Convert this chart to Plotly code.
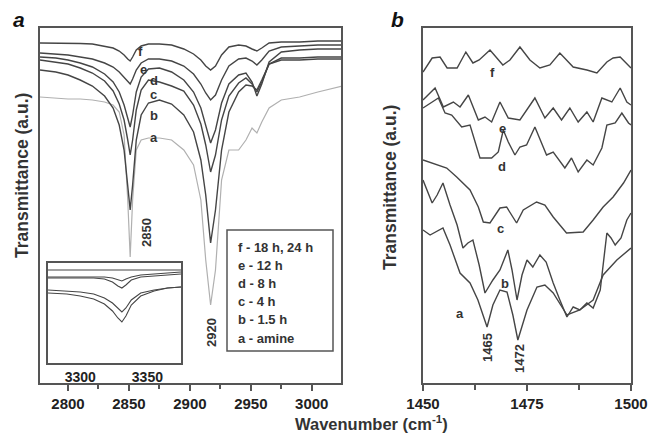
import plotly.graph_objects as go

# ---------------- Panel a data (Transmittance, a.u.) ----------------
wn_a = [2777, 2790, 2800, 2810, 2820, 2830, 2837, 2842, 2846, 2849, 2851, 2853, 2856, 2860,
        2866, 2875, 2885, 2895, 2903, 2909, 2913, 2917, 2921, 2926, 2932, 2940, 2946, 2951,
        2955, 2959, 2965, 2975, 2990, 3005, 3025]
a_f = [340, 340, 340, 339.5, 339, 337, 335, 332, 328, 324, 322, 326, 333, 337, 339, 339, 338, 334,
       329, 323, 317, 313, 317, 328, 336, 338, 337, 334, 332, 335, 340, 341, 341, 342, 342]
a_e = [330, 329, 328, 326, 324, 320, 316, 311, 306, 302, 299, 304, 313, 320, 324, 324, 322, 317,
       309, 299, 290, 283, 288, 303, 317, 324, 325, 322, 318, 323, 332, 336, 337, 338, 338]
a_d = [326, 325, 323, 320, 316, 309, 301, 291, 278, 265, 256, 268, 291, 306, 314, 315, 311, 303,
       291, 275, 258, 240, 253, 280, 299, 308, 310, 301, 287, 299, 321, 331, 333, 334, 334]
a_c = [323, 321, 319, 315, 310, 302, 292, 279, 263, 243, 228, 243, 273, 293, 303, 301, 297, 292,
       278, 259, 238, 211, 228, 263, 287, 300, 305, 299, 291, 301, 319, 325, 325, 326, 326]
a_b = [313, 311, 308, 303, 297, 287, 275, 258, 233, 198, 173, 198, 243, 268, 280, 283, 279, 268,
       251, 223, 188, 140, 173, 233, 271, 291, 298, 297, 293, 303, 319, 323, 323, 324, 324]
a_a = [286, 285, 284, 284, 283, 281, 278, 271, 248, 183, 126, 183, 233, 243, 245, 245, 243, 233,
       218, 183, 123, 78, 113, 203, 233, 233, 243, 255, 250, 261, 275, 283, 286, 291, 297]

# inset (N-H region)
wn_in = [3276, 3290, 3300, 3310, 3318, 3324, 3328, 3331, 3334, 3338, 3345, 3355, 3365, 3375]
in_f = [93, 93, 93, 93, 93, 93, 93, 93, 93, 93, 93, 93, 93, 93]
in_e = [86, 86, 86, 86, 86, 85, 83, 82, 84, 86, 88, 89, 90, 91]
in_d = [85, 85, 85, 85, 84, 81, 77, 75, 78, 83, 86, 87, 88, 89]
in_c = [73, 72, 71, 69, 65, 60, 55, 51, 55, 63, 70, 73, 75, 76]
in_b = [70, 69, 67, 64, 59, 52, 45, 41, 47, 58, 67, 72, 75, 76]

# ---------------- Panel b data ----------------
wn_bf = [1450, 1452.2, 1454.1, 1455.8, 1458.2, 1460.3, 1462, 1463.5, 1466.1, 1469.2, 1470.9, 1473.3,
         1475.7, 1478.1, 1480.5, 1482.9, 1486.1, 1489.4, 1491.8, 1494.2, 1495.7, 1497.4, 1500]
b_f = [311, 325, 326, 315, 315, 331, 320, 323, 333, 318, 323, 336, 323, 315, 318, 330, 316, 313,
       310, 321, 325, 326, 315]
wn_be = [1450, 1452.9, 1454.9, 1457.3, 1458.9, 1460.9, 1463.3, 1464.9, 1466.5, 1468.5, 1470.5, 1473.3,
         1476.9, 1479.3, 1481.3, 1483.3, 1485.3, 1487.3, 1489.4, 1490.9, 1493.0, 1495.4, 1497.4, 1499.0, 1500]
b_e = [283, 295, 276, 281, 276, 288, 263, 266, 261, 281, 265, 263, 285, 265, 275, 263, 275, 261,
       271, 261, 285, 281, 295, 281, 278]
wn_bd = [1450, 1453.7, 1455.3, 1456.9, 1459.3, 1461.3, 1463.7, 1466.5, 1468.1, 1469.3, 1470.5, 1472.1,
         1473.3, 1474.9, 1476.9, 1479.7, 1481.3, 1484.1, 1485.7, 1487.3, 1489.4, 1490.9, 1493.0, 1494.2,
         1496.2, 1497.8, 1499.4, 1500]
b_d = [275, 285, 270, 268, 256, 258, 225, 225, 231, 253, 241, 228, 236, 238, 256, 228, 231, 215,
       225, 211, 223, 218, 235, 258, 260, 270, 260, 258]
wn_bc = [1450, 1453.3, 1455.7, 1458.1, 1461.3, 1463.3, 1464.5, 1466.1, 1468.5, 1470.1, 1472.5, 1474.1,
         1477.3, 1479.3, 1481.3, 1484.5, 1488.5, 1490.9, 1493.3, 1495.7, 1498.2, 1500]
b_c = [223, 218, 215, 206, 193, 176, 161, 160, 175, 176, 160, 173, 181, 178, 166, 150, 151, 163,
       176, 186, 200, 213]
wn_bb = [1450, 1452.2, 1453.4, 1454.8, 1456.5, 1458.2, 1459.6, 1460.8, 1462.0, 1463.5, 1464.9, 1466.8,
         1468.5, 1470.4, 1471.4, 1472.6, 1473.8, 1475.0, 1476.4, 1478.1, 1479.6, 1481.3, 1482.9, 1484.6,
         1486.1, 1487.7, 1489.4, 1490.9, 1492.6, 1494.2, 1495.2, 1496.2, 1497.6, 1499.0, 1500]
b_b = [203, 180, 188, 200, 178, 158, 135, 140, 143, 118, 90, 103, 113, 133, 113, 83, 108, 123, 116,
       128, 121, 100, 83, 66, 76, 73, 80, 75, 93, 150, 145, 138, 145, 163, 170]
wn_ba = [1450, 1451.7, 1454.8, 1456.5, 1458.9, 1461.3, 1463.2, 1465.4, 1466.8, 1468.5, 1470.2, 1471.6,
         1472.8, 1475.0, 1477.4, 1479.3, 1481.3, 1484.6, 1487.7, 1490.9, 1493.3, 1496.6, 1500]
b_a = [153, 148, 155, 138, 110, 100, 83, 56, 78, 93, 91, 68, 43, 73, 96, 98, 90, 68, 73, 83, 108,
       123, 135]

legend_lines = ["f - 18 h, 24 h", "e - 12 h", "d - 8 h", "c - 4 h", "b - 1.5 h", "a - amine"]

W, H = 649, 436
def X(p): return p / W
def Y(p): return 1 - p / H

DARK = "#454545"
LIGHT = "#b0b0b0"
FONT = "Liberation Sans, Arial, sans-serif"

fig = go.Figure()
def line(x, y, xa, ya, color=DARK, width=1.4, dash="solid"):
    fig.add_trace(go.Scatter(x=x, y=y, mode="lines", xaxis=xa, yaxis=ya,
                             line=dict(color=color, width=width, dash=dash), showlegend=False,
                             hoverinfo="skip"))

line(wn_a, a_a, "x", "y", LIGHT, 1.2)
for s in (a_b, a_c, a_d, a_e, a_f):
    line(wn_a, s, "x", "y")
for s in (in_b, in_c, in_d, in_e, in_f):
    line(wn_in, s, "x3", "y3", DARK, 1.1)
for xs, s in ((wn_ba, b_a), (wn_bb, b_b), (wn_bc, b_c), (wn_bd, b_d), (wn_be, b_e), (wn_bf, b_f)):
    line(xs, s, "x2", "y2")

axline = dict(showline=True, mirror=True, linecolor="#555", linewidth=2, showgrid=False,
              zeroline=False, automargin=False)
tickfont = dict(family=FONT, size=15, color="#222", weight="bold")
fig.update_layout(
    width=W, height=H, margin=dict(l=0, r=0, t=0, b=0, pad=0, autoexpand=False),
    paper_bgcolor="white", plot_bgcolor="white", showlegend=False,
    xaxis=dict(domain=[X(40), X(341)], range=[2777, 3024], tickvals=[2800, 2850, 2900, 2950, 3000],
               ticktext=["<b>2800</b>", "<b>2850</b>", "<b>2900</b>", "<b>2950</b>", "<b>3000</b>"],
               ticks="outside", ticklen=6, tickwidth=1.5, tickcolor="#555", tickfont=tickfont,
               minor=dict(tickvals=[2825, 2875, 2925, 2975], ticks="outside", ticklen=4,
                          tickcolor="#555"),
               anchor="y", **axline),
    yaxis=dict(domain=[Y(383), Y(28)], range=[0, 355], showticklabels=False, ticks="",
               anchor="x", **axline),
    xaxis2=dict(domain=[X(423), X(631)], range=[1450, 1500], tickvals=[1450, 1475, 1500],
                ticktext=["<b>1450</b>", "<b>1475</b>", "<b>1500</b>"],
                ticks="outside", ticklen=6, tickwidth=1.5, tickcolor="#555", tickfont=tickfont,
                minor=dict(tickvals=[1462.5, 1487.5], ticks="outside", ticklen=5, tickcolor="#555"),
                anchor="y2", **axline),
    yaxis2=dict(domain=[Y(383), Y(28)], range=[0, 355], showticklabels=False, ticks="",
                anchor="x2", **axline),
    xaxis3=dict(domain=[X(48), X(181)], range=[3276, 3375], tickvals=[3300, 3350],
                ticktext=["<b>3300</b>", "<b>3350</b>"],
                ticks="", tickfont=dict(family=FONT, size=14, color="#222", weight="bold"),
                anchor="y3", **axline),
    yaxis3=dict(domain=[Y(363), Y(263)], range=[0, 100], showticklabels=False, ticks="",
                anchor="x3", **axline),
)
fig.update_xaxes(selector=dict(anchor="y3"), linewidth=1.5)
fig.update_yaxes(selector=dict(anchor="x3"), linewidth=1.5)

# legend box
fig.add_shape(type="rect", xref="paper", yref="paper", x0=X(227), x1=X(333), y0=Y(351), y1=Y(230),
              line=dict(color="#555", width=1.5), fillcolor="white")
for i, t in enumerate(legend_lines):
    fig.add_annotation(xref="paper", yref="paper", x=X(236), y=Y(247 + i * 18.2), text="<b>%s</b>" % t,
                       showarrow=False, xanchor="left", yanchor="middle",
                       font=dict(family=FONT, size=13, color="#333"))

def ann(x, y, t, size=13, angle=0, italic=False, color="#333"):
    txt = "<b>%s</b>" % t
    if italic:
        txt = "<b><i>%s</i></b>" % t
    fig.add_annotation(xref="paper", yref="paper", x=X(x), y=Y(y), text=txt, showarrow=False,
                       xanchor="center", yanchor="middle", textangle=angle,
                       font=dict(family=FONT, size=size, color=color))

# curve labels panel a
for t, (x, y) in zip("fedcba", [(140, 52), (143, 69), (154, 80), (153, 94), (154, 115), (154, 137)]):
    ann(x, y, t)
# curve labels panel b
for t, (x, y) in zip("fedcba", [(492, 72), (502, 128), (502, 166), (500, 228), (505, 283), (460, 313)]):
    ann(x, y, t)
# peak labels
ann(147, 233, "2850", 13, -90)
ann(211, 333, "2920", 13, -90)
ann(487, 348, "1465", 13, -90)
ann(519, 359, "1472", 13, -90)
# panel labels
ann(19, 20, "a", 21, 0, True, "#111")
ann(397, 20, "b", 21, 0, True, "#111")
# axis titles
ann(22, 176, "Transmittance (a.u.)", 17.5, -90)
ann(390, 188, "Transmittance (a.u.)", 17.5, -90)
ann(371, 423, "Wavenumber (cm<sup>-1</sup>)", 16.5)

fig.write_html("out.html")
